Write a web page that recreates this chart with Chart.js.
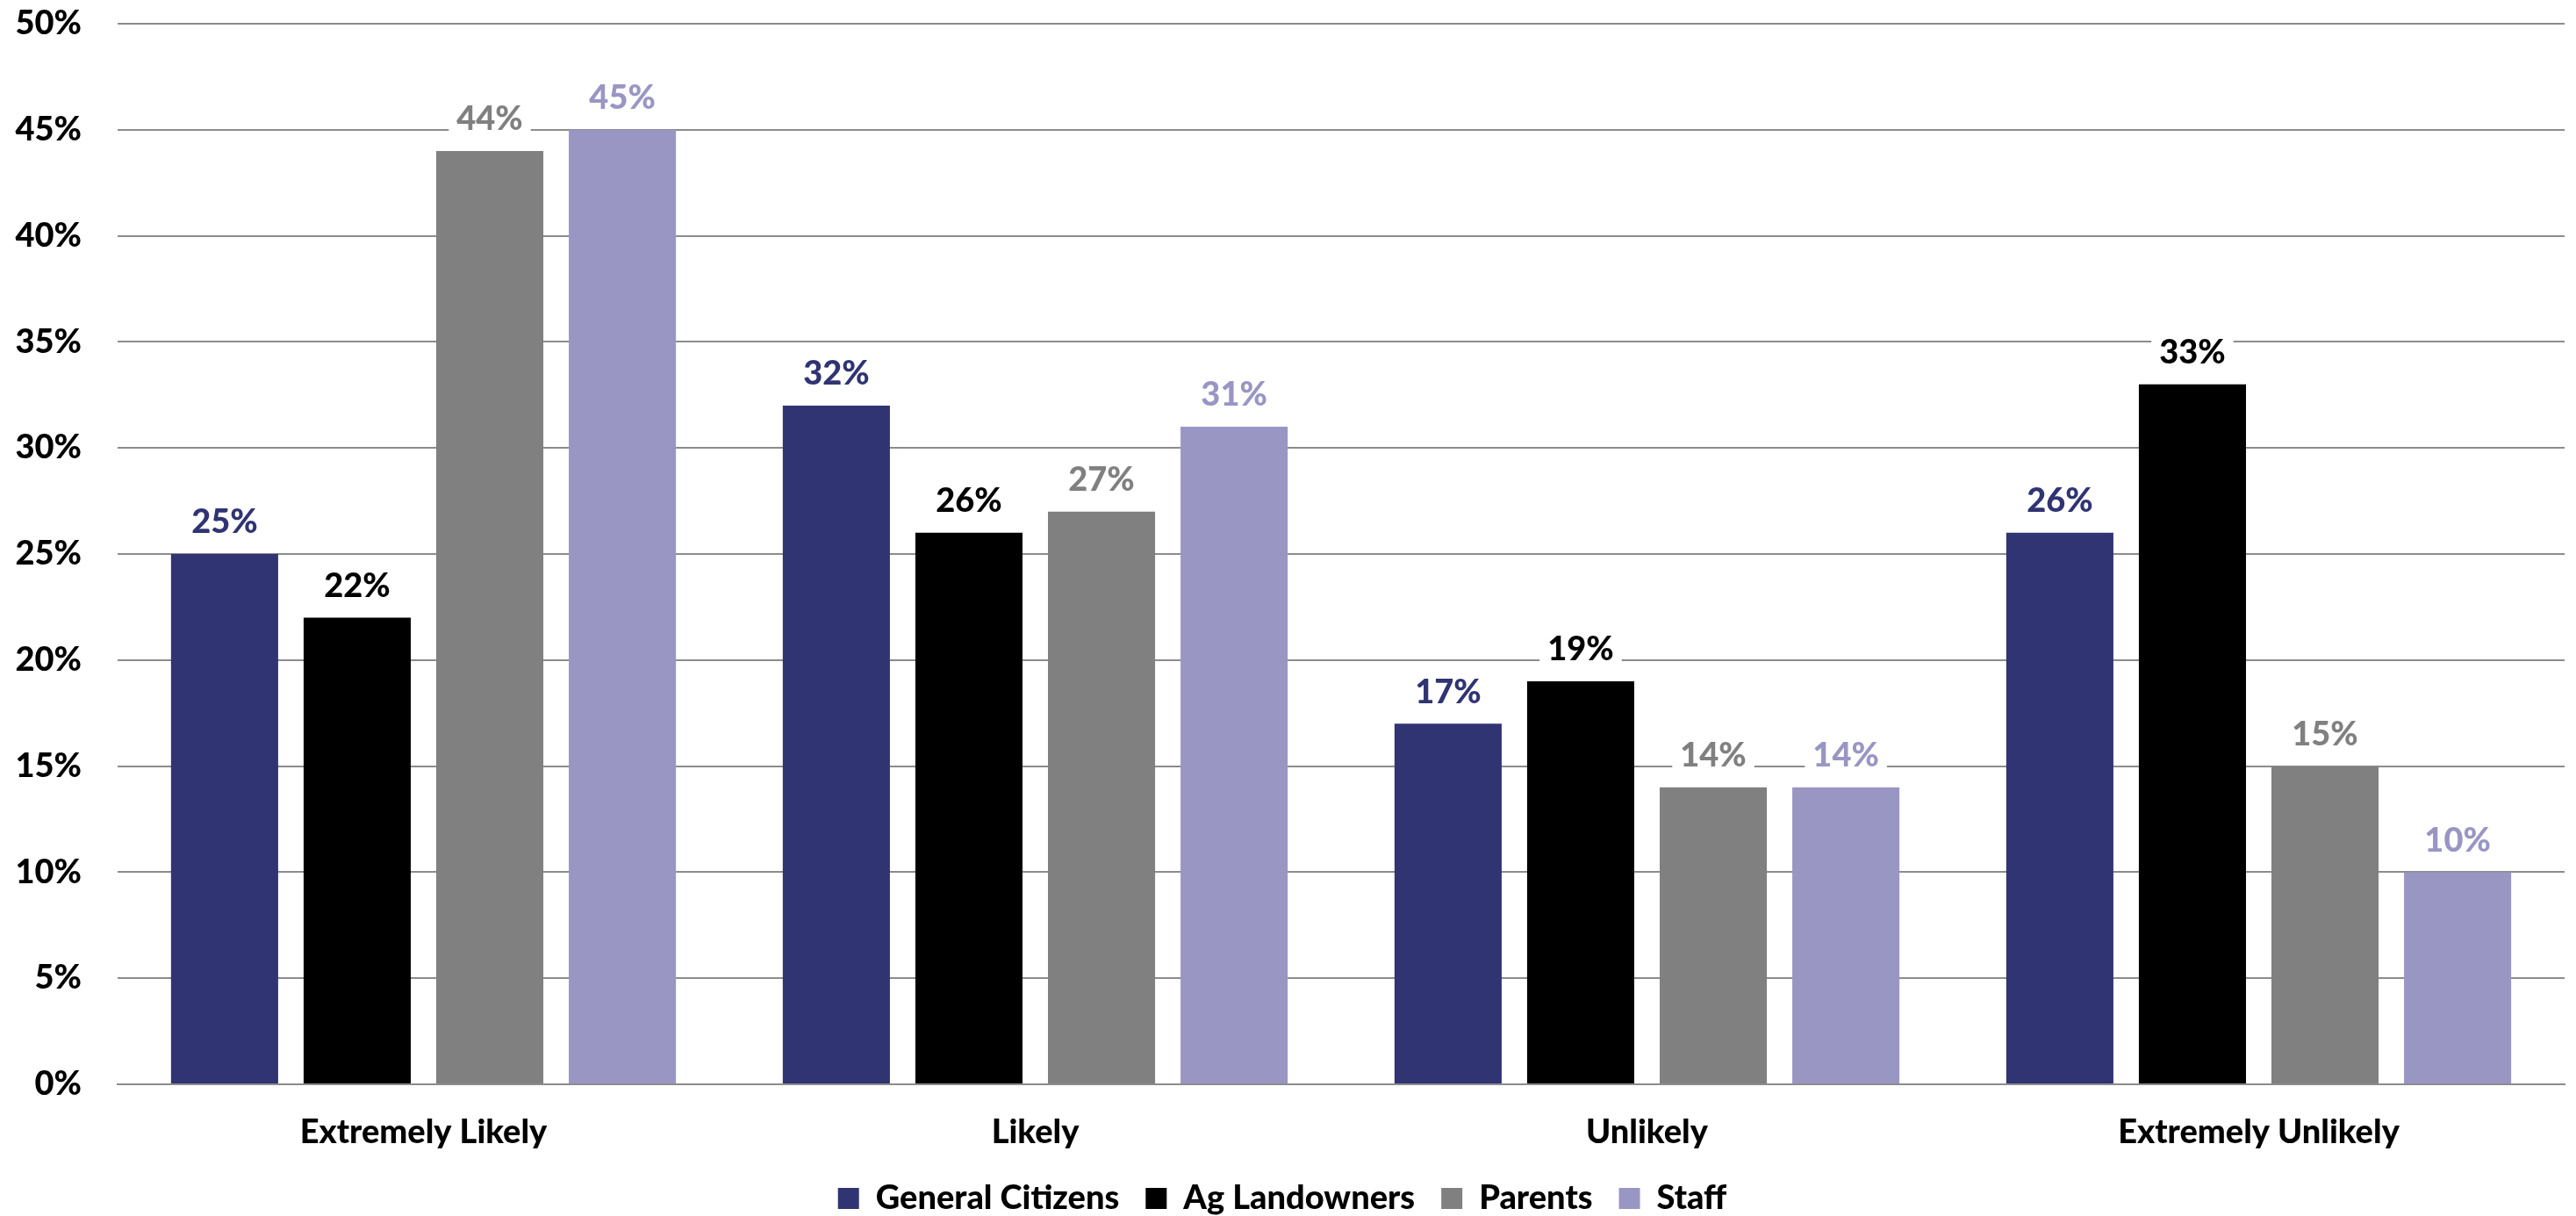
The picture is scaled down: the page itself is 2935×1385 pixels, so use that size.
<!DOCTYPE html>
<html>
<head>
<meta charset="utf-8">
<script src="https://cdn.jsdelivr.net/npm/chart.js@4.4.0/dist/chart.umd.min.js"></script>
<style>
  html, body { margin: 0; padding: 0; background: #ffffff; }
  #wrap { width: 2935px; height: 1385px; }
</style>
</head>
<body>
<div id="wrap"><canvas id="myChart" width="2935" height="1385"></canvas></div>
<script>
var categories = ['Extremely Likely', 'Likely', 'Unlikely', 'Extremely Unlikely'];
var seriesNames = ['General Citizens', 'Ag Landowners', 'Parents', 'Staff'];
var generalCitizens = [25, 32, 17, 26];
var agLandowners = [22, 26, 19, 33];
var parents = [44, 27, 14, 15];
var staff = [45, 31, 14, 10];
var yTicks = [0, 5, 10, 15, 20, 25, 30, 35, 40, 45, 50];

var colors = ['#303472', '#000000', '#808080', '#9996c4'];
var fontFamily = 'Lato, "Open Sans", sans-serif';
var fontSize = 38;
var fontWeight = 900;

// value labels above each bar, on a white box so gridlines are cut behind them
var barLabels = {
    id: 'barLabels',
    afterDatasetsDraw: function (chart) {
        var c = chart.ctx;
        c.save();
        c.font = fontWeight + ' ' + fontSize + 'px ' + fontFamily;
        c.textAlign = 'center';
        c.textBaseline = 'middle';
        chart.data.datasets.forEach(function (ds, i) {
            var meta = chart.getDatasetMeta(i);
            meta.data.forEach(function (bar, j) {
                var txt = ds.data[j] + '%';
                var w = c.measureText(txt).width;
                var y = bar.y - 37;
                c.fillStyle = '#ffffff';
                c.fillRect(bar.x - w / 2 - 9, y - 22, w + 18, 44);
                c.fillStyle = ds.backgroundColor;
                c.fillText(txt, bar.x, y + 1);
            });
        });
        c.restore();
    }
};

var ctx = document.getElementById('myChart').getContext('2d');
var myChart = new Chart(ctx, {
    type: 'bar',
    data: {
        labels: categories,
        datasets: [
            { label: seriesNames[0], data: generalCitizens, backgroundColor: colors[0] },
            { label: seriesNames[1], data: agLandowners, backgroundColor: colors[1] },
            { label: seriesNames[2], data: parents, backgroundColor: colors[2] },
            { label: seriesNames[3], data: staff, backgroundColor: colors[3] }
        ]
    },
    options: {
        responsive: false,
        animation: false,
        devicePixelRatio: 1,
        categoryPercentage: 0.867,
        barPercentage: 0.808,
        layout: { padding: { top: 27, right: 13, left: 0, bottom: -9 } },
        plugins: {
            legend: {
                position: 'bottom',
                labels: {
                    color: '#000000',
                    font: { family: fontFamily, size: fontSize, weight: fontWeight },
                    boxWidth: 24,
                    boxHeight: 24,
                    padding: 30
                }
            },
            tooltip: { enabled: false }
        },
        scales: {
            x: {
                afterFit: function (axis) { axis.height = 81; },
                grid: { display: false },
                border: { display: true, color: '#8c8c8c', width: 2 },
                ticks: {
                    color: '#000000',
                    padding: 28,
                    font: { family: fontFamily, size: fontSize, weight: fontWeight, lineHeight: 1 }
                }
            },
            y: {
                min: 0,
                max: 50,
                afterBuildTicks: function (axis) {
                    axis.ticks = yTicks.map(function (v) { return { value: v }; });
                },
                afterFit: function (axis) {
                    axis.width = 134;
                    axis.paddingTop = 23;
                    axis.paddingBottom = 23;
                },
                grid: { color: '#8c8c8c', lineWidth: 2, drawTicks: false },
                border: { display: false },
                ticks: {
                    color: '#000000',
                    padding: 41,
                    font: { family: fontFamily, size: fontSize, weight: fontWeight },
                    callback: function (v) { return v + '%'; }
                }
            }
        }
    },
    plugins: [barLabels]
});
</script>
</body>
</html>
